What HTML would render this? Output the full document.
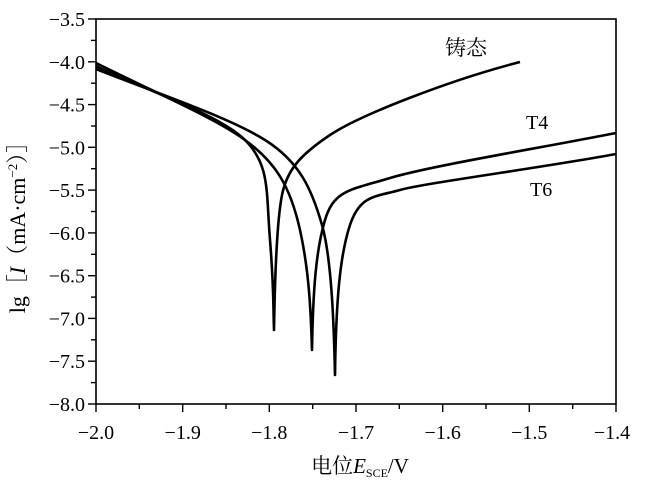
<!DOCTYPE html>
<html><head><meta charset="utf-8"><style>
body{margin:0;background:#fff}
svg{display:block}
text{font-family:"Liberation Serif","Noto Serif CJK SC",serif;fill:#000}
</style></head><body>
<svg width="645" height="483" viewBox="0 0 645 483">
<rect x="96" y="19" width="520" height="385" fill="none" stroke="#000" stroke-width="1.6"/>
<g stroke="#000" stroke-width="1.4">
<line x1="96" y1="404" x2="96" y2="412"/><line x1="139.3" y1="404" x2="139.3" y2="409"/>
<line x1="182.7" y1="404" x2="182.7" y2="412"/><line x1="226" y1="404" x2="226" y2="409"/>
<line x1="269.3" y1="404" x2="269.3" y2="412"/><line x1="312.7" y1="404" x2="312.7" y2="409"/>
<line x1="356" y1="404" x2="356" y2="412"/><line x1="399.3" y1="404" x2="399.3" y2="409"/>
<line x1="442.7" y1="404" x2="442.7" y2="412"/><line x1="486" y1="404" x2="486" y2="409"/>
<line x1="529.3" y1="404" x2="529.3" y2="412"/><line x1="572.7" y1="404" x2="572.7" y2="409"/>
<line x1="616" y1="404" x2="616" y2="412"/>
<line x1="88" y1="19" x2="96" y2="19"/><line x1="91" y1="40.4" x2="96" y2="40.4"/>
<line x1="88" y1="61.8" x2="96" y2="61.8"/><line x1="91" y1="83.2" x2="96" y2="83.2"/>
<line x1="88" y1="104.6" x2="96" y2="104.6"/><line x1="91" y1="126" x2="96" y2="126"/>
<line x1="88" y1="147.3" x2="96" y2="147.3"/><line x1="91" y1="168.7" x2="96" y2="168.7"/>
<line x1="88" y1="190.1" x2="96" y2="190.1"/><line x1="91" y1="211.5" x2="96" y2="211.5"/>
<line x1="88" y1="232.9" x2="96" y2="232.9"/><line x1="91" y1="254.3" x2="96" y2="254.3"/>
<line x1="88" y1="275.7" x2="96" y2="275.7"/><line x1="91" y1="297.1" x2="96" y2="297.1"/>
<line x1="88" y1="318.4" x2="96" y2="318.4"/><line x1="91" y1="339.8" x2="96" y2="339.8"/>
<line x1="88" y1="361.2" x2="96" y2="361.2"/><line x1="91" y1="382.6" x2="96" y2="382.6"/>
<line x1="88" y1="404" x2="96" y2="404"/>
</g>
<g font-size="20" text-anchor="end">
<text x="85" y="26">−3.5</text><text x="85" y="68.8">−4.0</text><text x="85" y="111.6">−4.5</text>
<text x="85" y="154.3">−5.0</text><text x="85" y="197.1">−5.5</text><text x="85" y="239.9">−6.0</text>
<text x="85" y="282.7">−6.5</text><text x="85" y="325.4">−7.0</text><text x="85" y="368.2">−7.5</text>
<text x="85" y="411">−8.0</text>
</g>
<g font-size="20" text-anchor="middle">
<text x="96" y="439">−2.0</text><text x="182.7" y="439">−1.9</text><text x="269.3" y="439">−1.8</text>
<text x="356" y="439">−1.7</text><text x="442.7" y="439">−1.6</text><text x="529.3" y="439">−1.5</text>
<text x="612" y="439">−1.4</text>
</g>
<text x="360" y="473" font-size="21" text-anchor="middle">电位<tspan font-style="italic">E</tspan><tspan font-size="12" dy="4">SCE</tspan><tspan dy="-4">/V</tspan></text>
<text transform="translate(25,222) rotate(-90)" font-size="22" text-anchor="middle">lg［<tspan font-style="italic">I</tspan>（mA·cm<tspan font-size="13" dy="-8">−2</tspan><tspan dy="8">）］</tspan></text>
<text x="445" y="55" font-size="21">铸态</text>
<text x="526" y="129" font-size="20">T4</text>
<text x="530" y="196" font-size="20">T6</text>
<g fill="none" stroke="#000" stroke-width="2.6" stroke-linejoin="round">
<path d="M96,66 C150,92 220,115 245,140 S266,190 270,240 S273,300 274,330 C275,270 277,220 282,195 S300,155 330,135 S450,80 520,62"/>
<path d="M96,63 C160,95 215,118 245,140 S290,185 300,230 S311,320 312,350 C313,290 316,250 325,220 S350,190 390,178 S540,148 616,133"/>
<path d="M96,69 C170,98 230,118 265,140 S312,190 322,225 S334,330 335,375 C336,300 340,255 350,225 S375,197 400,190 S540,168 616,154"/>
</g>
</svg>
</body></html>
